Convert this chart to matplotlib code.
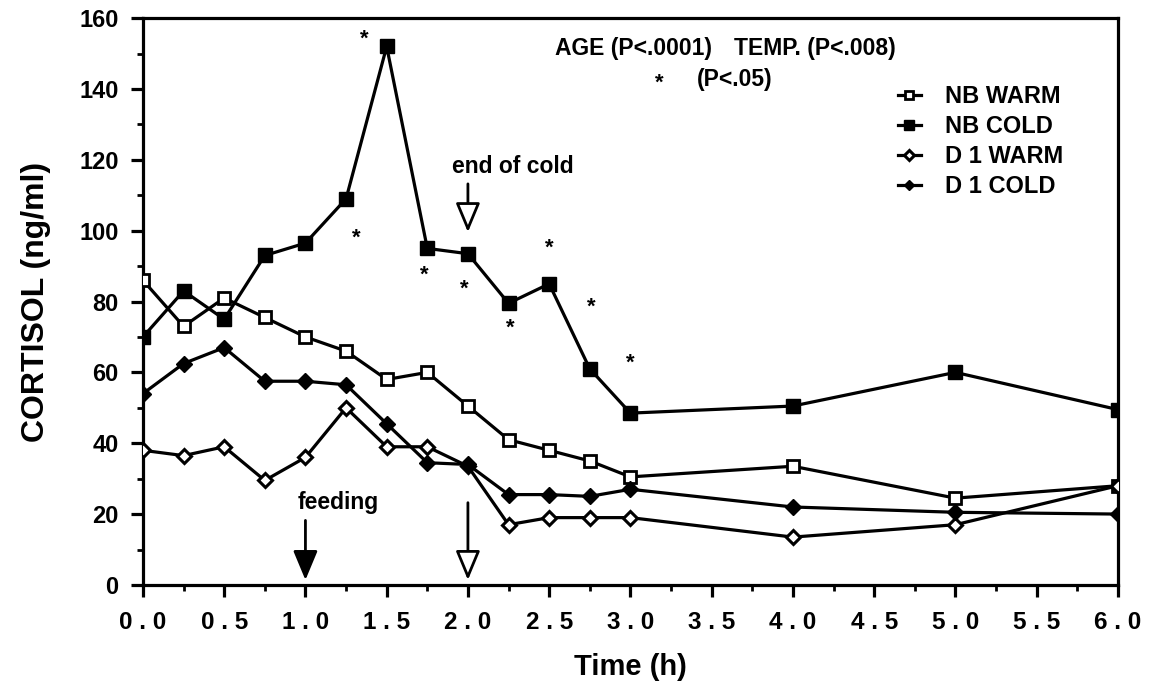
import matplotlib
matplotlib.use("Agg")
import matplotlib.pyplot as plt
from matplotlib.ticker import MultipleLocator

plt.rcParams['font.family'] = ['Liberation Sans', 'DejaVu Sans']
plt.rcParams['font.weight'] = 'bold'

time_nb = [0.0, 0.25, 0.5, 0.75, 1.0, 1.25, 1.5, 1.75, 2.0, 2.25, 2.5, 2.75, 3.0, 4.0, 5.0, 6.0]
nb_warm = [86, 73, 81, 75.5, 70, 66, 58, 60, 50.5, 41, 38, 35, 30.5, 33.5, 24.5, 28]
nb_cold = [70, 83, 75, 93, 96.5, 109, 152, 95, 93.5, 79.5, 85, 61, 48.5, 50.5, 60, 49.5]
d1_warm = [38, 36.5, 39, 29.5, 36, 50, 39, 39, 33.5, 17, 19, 19, 19, 13.5, 17, 28]
d1_cold = [54, 62.5, 67, 57.5, 57.5, 56.5, 45.5, 34.5, 34, 25.5, 25.5, 25, 27, 22, 20.5, 20]

star_x = [1.36, 1.31, 1.73, 1.98, 2.26, 2.5, 2.76, 3.0]
star_y = [154, 98, 87.5, 83.5, 72.5, 95, 78.5, 62.5]

series_labels = ['NB WARM', 'NB COLD', 'D 1 WARM', 'D 1 COLD']
x_ticks = [i * 0.5 for i in range(13)]
x_ticklabels = [f"{v:.1f}".replace('.', ' . ') for v in x_ticks]

fig = plt.figure(figsize=(11.51, 6.98), dpi=100)
ax = fig.add_axes([0.1242, 0.162, 0.847, 0.812])

lw = 2.3
ax.plot(time_nb, nb_warm, color='black', lw=lw, marker='s', ms=9, mfc='white', mec='black', mew=2, label=series_labels[0], zorder=3)
ax.plot(time_nb, nb_cold, color='black', lw=lw, marker='s', ms=10, mfc='black', mec='black', label=series_labels[1], zorder=3)
ax.plot(time_nb, d1_warm, color='black', lw=lw, marker='D', ms=7.5, mfc='white', mec='black', mew=2.2, label=series_labels[2], zorder=3)
ax.plot(time_nb, d1_cold, color='black', lw=lw, marker='D', ms=8.5, mfc='black', mec='black', label=series_labels[3], zorder=3)

for sx, sy in zip(star_x, star_y):
    ax.text(sx, sy, '*', ha='center', va='center', fontsize=16, fontweight='bold')

ax.set_xlim(0, 6)
ax.set_ylim(0, 160)
ax.xaxis.set_minor_locator(MultipleLocator(0.25))
ax.yaxis.set_major_locator(MultipleLocator(20))
ax.yaxis.set_minor_locator(MultipleLocator(10))
ax.set_xticks(x_ticks)
ax.set_xticklabels(x_ticklabels, fontsize=17.5, fontweight='bold')
for lab in ax.get_yticklabels():
    lab.set_fontsize(17)
    lab.set_fontweight('bold')
ax.tick_params(axis='both', which='major', direction='out', length=8.5, width=2.3)
ax.tick_params(axis='both', which='minor', direction='out', length=4.5, width=2)
ax.tick_params(axis='x', which='major', pad=10)
ax.tick_params(axis='y', which='major', pad=9)
for sp in ax.spines.values():
    sp.set_linewidth(2.3)

ax.set_xlabel('Time (h)', fontsize=21, fontweight='bold', labelpad=14)
ax.set_ylabel('CORTISOL (ng/ml)', fontsize=23, fontweight='bold', labelpad=20)

ax.text(2.535, 151.5, 'AGE (P<.0001)', fontsize=16.5, fontweight='bold', va='center', ha='left')
ax.text(3.64, 151.5, 'TEMP. (P<.008)', fontsize=16.5, fontweight='bold', va='center', ha='left')
ax.text(3.18, 141.5, '*', fontsize=16, fontweight='bold', va='center', ha='center')
ax.text(3.41, 142.8, '(P<.05)', fontsize=16.5, fontweight='bold', va='center', ha='left')

head = '-|>,head_width=0.75,head_length=1.8'
ax.text(1.90, 118, 'end of cold', fontsize=16.5, fontweight='bold', ha='left', va='center')
ax.annotate('', xy=(2.0, 98.8), xytext=(2.0, 114),
            arrowprops=dict(arrowstyle=head, lw=2.0, color='black', fc='white'))
ax.text(0.954, 23.4, 'feeding', fontsize=16.5, fontweight='bold', ha='left', va='center')
ax.annotate('', xy=(1.0, 0.6), xytext=(1.0, 19),
            arrowprops=dict(arrowstyle=head, lw=2.0, color='black', fc='black'))
ax.annotate('', xy=(2.0, 0.6), xytext=(2.0, 24),
            arrowprops=dict(arrowstyle=head, lw=2.0, color='black', fc='white'))

leg = ax.legend(loc='upper left', bbox_to_anchor=(0.774, 0.882), frameon=False, fontsize=17,
                handlelength=1.0, handletextpad=1.0, labelspacing=0.3, borderpad=0,
                borderaxespad=0, markerscale=0.65)
for t in leg.get_texts():
    t.set_fontweight('bold')

fig.savefig('out.png', dpi=100)
